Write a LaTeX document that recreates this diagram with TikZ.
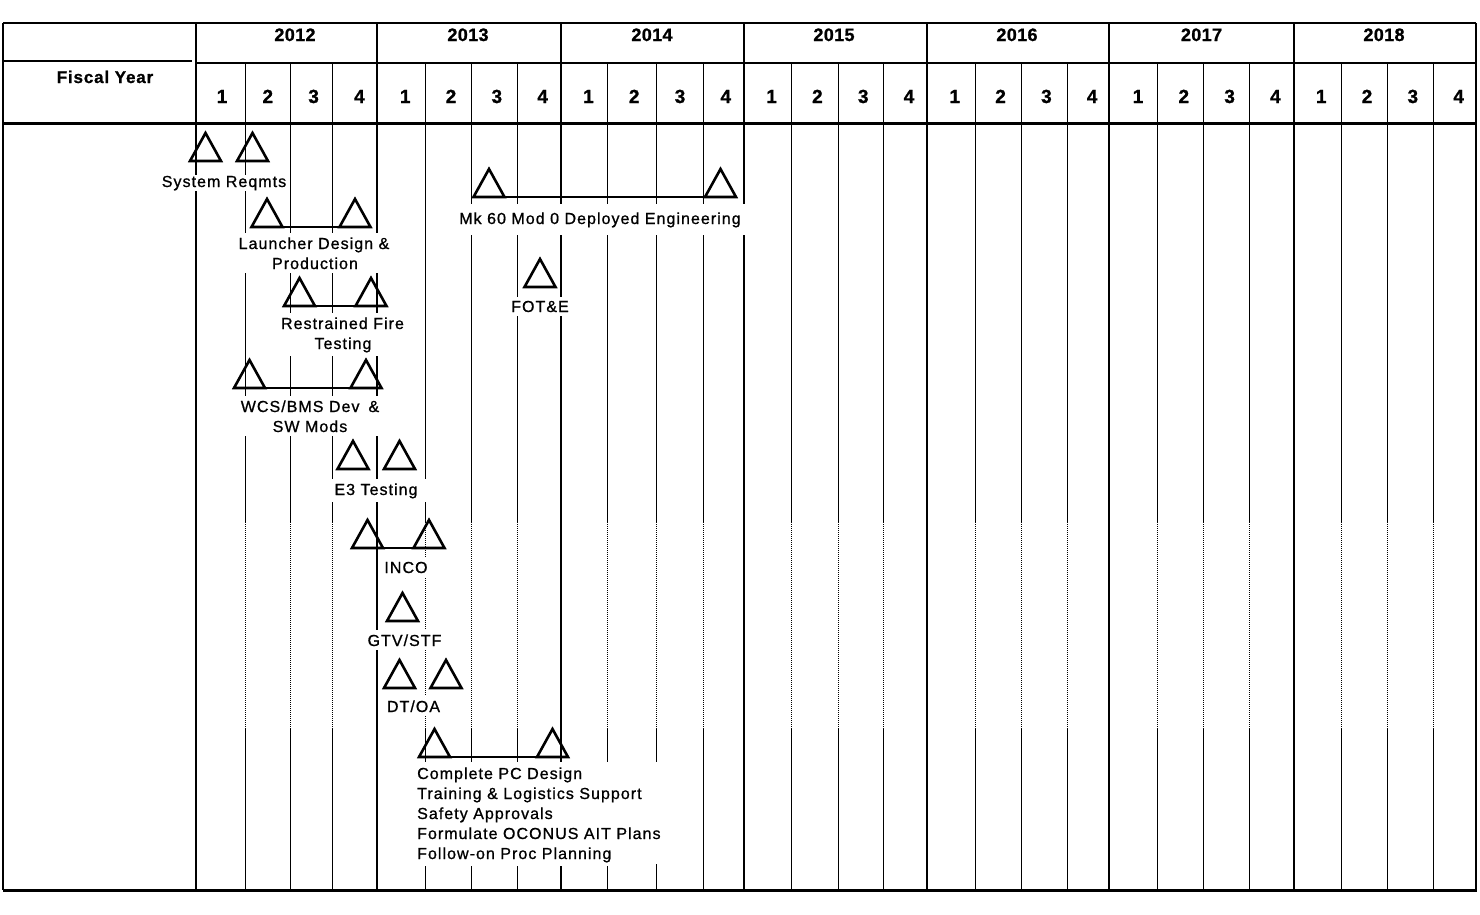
\documentclass[tikz,border=0pt]{standalone}
\usepackage{fontspec}
\setmainfont{Liberation Sans}
\newfontfamily\hdrfont[LetterSpace=5,FakeBold=1]{Liberation Sans}
\newfontfamily\yrfont[LetterSpace=2,FakeBold=1]{Liberation Sans}
\newfontfamily\lblfont[LetterSpace=6.5,FakeBold=0.9]{Liberation Sans}
\tikzset{
  yearline/.style={line width=2.5pt},
  qline/.style={line width=1pt},
  qdot/.style={line width=0.9pt, dash pattern=on 1pt off 1pt},
  frameline/.style={line width=2.5pt},
  thickrule/.style={line width=3pt},
  tri/.style={line width=2.6pt, line join=miter},
  barline/.style={line width=2.4pt},
  maskbox/.style={fill=white, draw=none},
  lbl/.style={font=\lblfont\fontsize{16}{20}\selectfont, fill=white, inner xsep=4pt, inner ysep=4pt, anchor=base},
  hdr/.style={font=\hdrfont\bfseries\fontsize{17}{20}\selectfont, inner sep=0pt, anchor=base},
  yr/.style={font=\yrfont\bfseries\fontsize{18}{20}\selectfont, inner sep=0pt, anchor=base},
  qtr/.style={font=\yrfont\bfseries\fontsize{19}{20}\selectfont, inner sep=0pt, anchor=base},
  ms/.pic={\draw[tri] (-15.5,0) -- (0,-28) -- (15.5,0) -- cycle;}
}
\begin{document}
\begin{tikzpicture}[x=1pt,y=-1pt]
\useasboundingbox (0,0) rectangle (1480,914);
\fill[white] (0,0) rectangle (1480,914);

% quarter lines
\foreach \x in {245,290,332,425,471,517,607,656,703,791,838,883,975,1021,1067,1157,1203,1249,1341,1387,1433} {
  \draw[qline] (\x,63) -- (\x,522);
  \draw[qdot] (\x,522) -- (\x,728);
  \draw[qline] (\x,728) -- (\x,890);
}
% year lines
\foreach \x in {196,377,561,744,927,1109,1294,1476} {
  \draw[yearline] (\x,23) -- (\x,890);
}
% frame and rules
\draw[frameline] (3,23) -- (3,890);
\draw[frameline] (3,23) -- (1476,23);
\draw[line width=2pt] (196,63) -- (1476,63);
\draw[line width=2pt] (3,61) -- (192,61);
\draw[thickrule] (3,123) -- (1477,123);
\draw[thickrule] (3,890) -- (1477,890);

% header texts
\node[hdr] (fy) at (105,83) {Fiscal Year};
\node[yr] (y2012) at (295,41) {2012};
\node[yr] (y2013) at (468,41) {2013};
\node[yr] (y2014) at (652,41) {2014};
\node[yr] (y2015) at (834,41) {2015};
\node[yr] (y2016) at (1017,41) {2016};
\node[yr] (y2017) at (1201.5,41) {2017};
\node[yr] (y2018) at (1384,41) {2018};
\foreach \k in {0,...,27} {
  \pgfmathtruncatemacro\qn{mod(\k,4)+1}
  \node[qtr] (q\k) at ({222+45.8*\k},103) {\qn};
}

% milestones
\pic at (205.5,161) {ms};
\pic at (252.5,161) {ms};

\pic at (267,227) {ms};
\pic at (355,227) {ms};
\coordinate (ldA) at (267,227); \coordinate (ldB) at (355,227);
\draw[barline] (ldA) -- (ldB);

\pic at (299.5,306) {ms};
\pic at (371,306) {ms};
\coordinate (rfA) at (299.5,306); \coordinate (rfB) at (371,306);
\draw[barline] (rfA) -- (rfB);

\pic at (249.5,388) {ms};
\pic at (366,388) {ms};
\coordinate (wcA) at (249.5,388); \coordinate (wcB) at (366,388);
\draw[barline] (wcA) -- (wcB);

\pic at (353,469) {ms};
\pic at (399.5,469) {ms};

\pic at (367.5,548) {ms};
\pic at (429,548) {ms};
\coordinate (inA) at (367.5,548); \coordinate (inB) at (429,548);
\draw[barline] (inA) -- (inB);

\pic at (402.5,621) {ms};

\pic at (399.5,688) {ms};
\pic at (446,688) {ms};

\pic at (434.5,757) {ms};
\pic at (552.5,757) {ms};
\coordinate (pcA) at (434.5,757); \coordinate (pcB) at (552.5,757);
\draw[barline] (pcA) -- (pcB);

\pic at (489,197) {ms};
\pic at (720.5,197) {ms};
\coordinate (mkA) at (489,197); \coordinate (mkB) at (720.5,197);
\draw[barline] (mkA) -- (mkB);

\pic at (540,287) {ms};

% labels
\node[lbl, inner ysep=1pt] (sysreq) at (224,187) {System Reqmts};
\node[lbl, minimum width=160pt] (ld1) at (314,249) {Launcher Design \&};
\node[lbl, minimum width=160pt] (ld2) at (315,269) {Production};
\node[lbl, minimum width=130pt] (rf1) at (342.5,329) {Restrained Fire};
\node[lbl, minimum width=130pt] (rf2) at (343,349) {Testing};
\node[lbl, minimum width=142pt] (wcs1) at (310,412) {WCS/BMS Dev\hspace{9pt}\&};
\node[lbl, minimum width=142pt] (wcs2) at (310,432) {SW Mods};
\node[lbl, inner xsep=9pt] (e3) at (376,495) {E3 Testing};
\node[lbl] (inco) at (406,573) {INCO};
\node[lbl] (gtv) at (404.5,646) {GTV/STF};
\node[lbl] (dtoa) at (413.5,712) {DT/OA};
\node[lbl, inner ysep=8pt] (mk60) at (600,224) {Mk 60 Mod 0 Deployed Engineering};
\node[lbl] (fote) at (540,312) {FOT\&E};
\fill[maskbox] (413,762) rectangle (662,864);
\node[lbl, anchor=base west] (pc1) at (413,779) {Complete PC Design};
\node[lbl, anchor=base west] (pc2) at (413,799) {Training \& Logistics Support};
\node[lbl, anchor=base west] (pc3) at (413,819) {Safety Approvals};
\node[lbl, anchor=base west] (pc4) at (413,839) {Formulate OCONUS AIT Plans};
\node[lbl, anchor=base west] (pc5) at (413,859) {Follow-on Proc Planning};
\end{tikzpicture}
\end{document}
